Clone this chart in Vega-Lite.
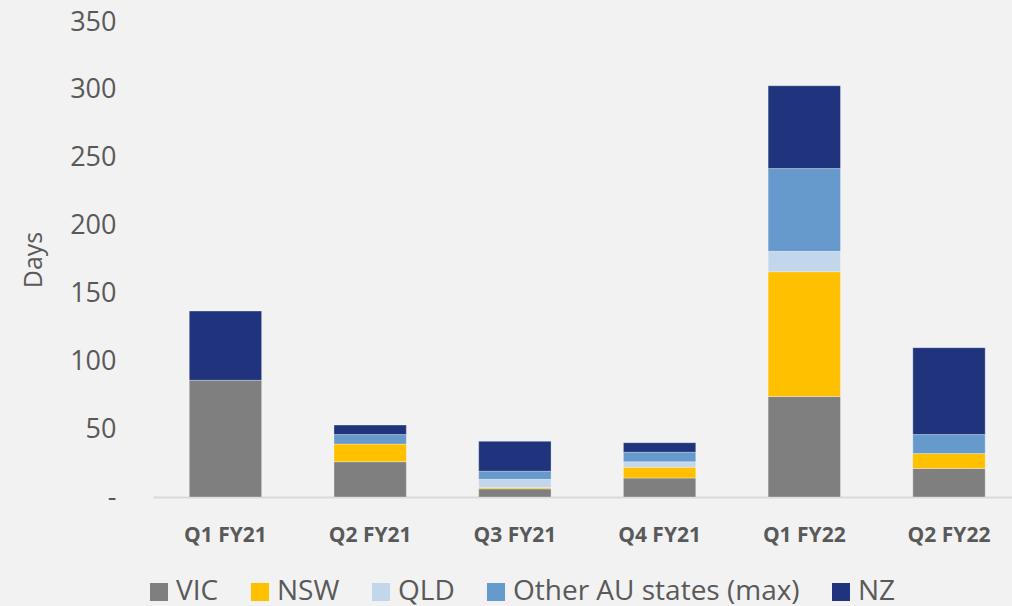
{
  "$schema": "https://vega.github.io/schema/vega-lite/v6.json",
  "width": 859,
  "height": 475,
  "autosize": {"type": "none"},
  "padding": {"left": 153, "top": 22, "right": 0, "bottom": 109},
  "background": "#F2F2F2",
  "config": {"view": {"stroke": null}, "font": "Open Sans"},
  "data": {
    "values": [
      {"quarter": "Q1 FY21", "region": "VIC", "ord": 1, "days": 86},
      {"quarter": "Q1 FY21", "region": "NZ", "ord": 5, "days": 51},
      {"quarter": "Q2 FY21", "region": "VIC", "ord": 1, "days": 26},
      {"quarter": "Q2 FY21", "region": "NSW", "ord": 2, "days": 13},
      {"quarter": "Q2 FY21", "region": "Other AU states (max)", "ord": 4, "days": 7},
      {"quarter": "Q2 FY21", "region": "NZ", "ord": 5, "days": 7},
      {"quarter": "Q3 FY21", "region": "VIC", "ord": 1, "days": 6},
      {"quarter": "Q3 FY21", "region": "NSW", "ord": 2, "days": 1},
      {"quarter": "Q3 FY21", "region": "QLD", "ord": 3, "days": 6},
      {"quarter": "Q3 FY21", "region": "Other AU states (max)", "ord": 4, "days": 6},
      {"quarter": "Q3 FY21", "region": "NZ", "ord": 5, "days": 22},
      {"quarter": "Q4 FY21", "region": "VIC", "ord": 1, "days": 14},
      {"quarter": "Q4 FY21", "region": "NSW", "ord": 2, "days": 8},
      {"quarter": "Q4 FY21", "region": "QLD", "ord": 3, "days": 4},
      {"quarter": "Q4 FY21", "region": "Other AU states (max)", "ord": 4, "days": 7},
      {"quarter": "Q4 FY21", "region": "NZ", "ord": 5, "days": 7},
      {"quarter": "Q1 FY22", "region": "VIC", "ord": 1, "days": 74},
      {"quarter": "Q1 FY22", "region": "NSW", "ord": 2, "days": 92},
      {"quarter": "Q1 FY22", "region": "QLD", "ord": 3, "days": 15},
      {"quarter": "Q1 FY22", "region": "Other AU states (max)", "ord": 4, "days": 61},
      {"quarter": "Q1 FY22", "region": "NZ", "ord": 5, "days": 61},
      {"quarter": "Q2 FY22", "region": "VIC", "ord": 1, "days": 21},
      {"quarter": "Q2 FY22", "region": "NSW", "ord": 2, "days": 11},
      {"quarter": "Q2 FY22", "region": "Other AU states (max)", "ord": 4, "days": 14},
      {"quarter": "Q2 FY22", "region": "NZ", "ord": 5, "days": 64}
    ]
  },
  "mark": {"type": "bar", "stroke": "#ffffff", "strokeOpacity": 0.3, "strokeWidth": 1},
  "encoding": {
    "x": {
      "field": "quarter",
      "type": "nominal",
      "sort": ["Q1 FY21", "Q2 FY21", "Q3 FY21", "Q4 FY21", "Q1 FY22", "Q2 FY22"],
      "scale": {"paddingInner": 0.5, "paddingOuter": 0.218, "align": 0.575},
      "axis": {
        "title": null,
        "labelAngle": 0,
        "labelFontSize": 21,
        "labelFontWeight": "bold",
        "labelColor": "#595959",
        "ticks": false,
        "labelPadding": 27,
        "domainColor": "#D9D9D9",
        "domainWidth": 2
      }
    },
    "y": {
      "field": "days",
      "type": "quantitative",
      "stack": "zero",
      "scale": {"domain": [0, 350], "nice": false},
      "axis": {
        "title": "Days",
        "values": [0, 50, 100, 150, 200, 250, 300, 350],
        "grid": false,
        "domain": false,
        "ticks": false,
        "labelPadding": 37,
        "labelFontSize": 27,
        "labelColor": "#595959",
        "labelExpr": "datum.value == 0 ? '-\u00a0\u00a0' : datum.label",
        "titleFontSize": 25,
        "titleFontWeight": "normal",
        "titleColor": "#595959",
        "titlePadding": 23
      }
    },
    "color": {
      "field": "region",
      "type": "nominal",
      "sort": ["VIC", "NSW", "QLD", "Other AU states (max)", "NZ"],
      "scale": {
        "domain": ["VIC", "NSW", "QLD", "Other AU states (max)", "NZ"],
        "range": ["#7F7F7F", "#FFC000", "#C2D6EC", "#6699CC", "#1F347D"]
      },
      "legend": {
        "title": null,
        "orient": "none",
        "legendX": -8,
        "legendY": 556,
        "direction": "horizontal",
        "columns": 5,
        "symbolType": "square",
        "symbolSize": 324,
        "symbolStrokeWidth": 0,
        "labelFontSize": 28,
        "labelColor": "#595959",
        "labelOffset": 3,
        "columnPadding": 27,
        "padding": 0,
        "labelLimit": 400
      }
    },
    "order": {"field": "ord", "type": "quantitative"}
  }
}
